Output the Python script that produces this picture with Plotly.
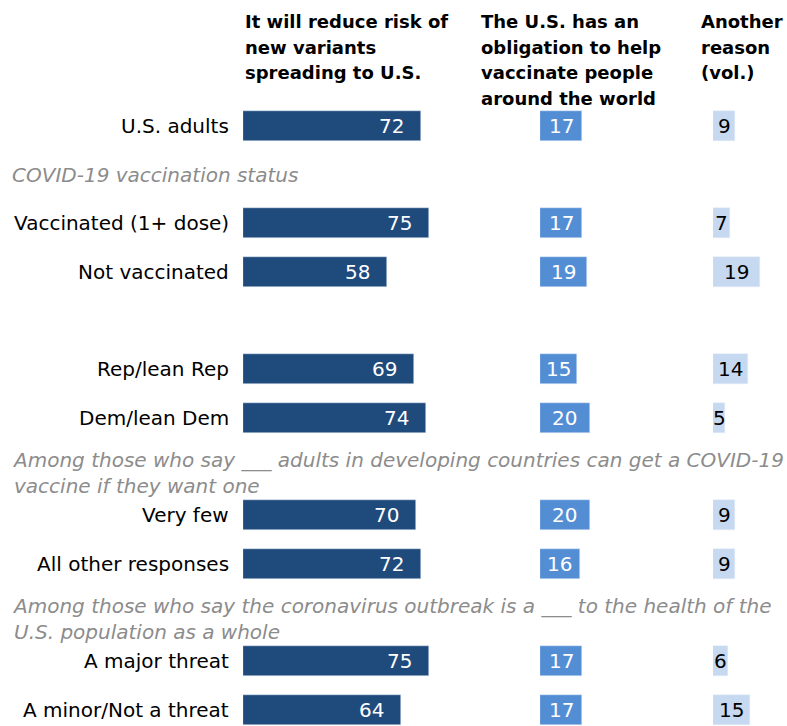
import plotly.graph_objects as go

# ---- data ----
rows = ["U.S. adults", "Vaccinated (1+ dose)", "Not vaccinated", "Rep/lean Rep",
        "Dem/lean Dem", "Very few", "All other responses", "A major threat",
        "A minor/Not a threat"]
reduce_risk = [72, 75, 58, 69, 74, 70, 72, 75, 64]
obligation = [17, 17, 19, 15, 20, 20, 16, 17, 17]
another = [9, 7, 19, 14, 5, 9, 9, 6, 15]

# full slot order, including group header rows
slots = ["U.S. adults", "hdr_vacc", "Vaccinated (1+ dose)", "Not vaccinated", "hdr_party",
         "Rep/lean Rep", "Dem/lean Dem", "hdr_dev", "Very few", "All other responses",
         "hdr_threat", "A major threat", "A minor/Not a threat"]
group_headers = {
    "hdr_vacc": "COVID-19 vaccination status",
    "hdr_dev": "Among those who say ___ adults in developing countries can get a COVID-19<br>vaccine if they want one",
    "hdr_threat": "Among those who say the coronavirus outbreak is a ___ to the health of the<br>U.S. population as a whole",
}
col_headers = [
    ["It will reduce risk of", "new variants", "spreading to U.S."],
    ["The U.S. has an", "obligation to help", "vaccinate people", "around the world"],
    ["Another", "reason", "(vol.)"],
]

W, H = 787, 726
DARK, MID, PALE = "#1f4a7c", "#538ed5", "#c6d9f1"
FONT = "DejaVu Sans"

fig = go.Figure()
fig.add_trace(go.Bar(y=rows, x=reduce_risk, orientation="h", marker_color=DARK,
                     width=0.62, xaxis="x", yaxis="y", hoverinfo="skip"))
fig.add_trace(go.Bar(y=rows, x=obligation, orientation="h", marker_color=MID,
                     width=0.62, xaxis="x2", yaxis="y", hoverinfo="skip"))
fig.add_trace(go.Bar(y=rows, x=another, orientation="h", marker_color=PALE,
                     width=0.62, xaxis="x3", yaxis="y", hoverinfo="skip"))

ann = []
# row labels
for r in rows:
    ann.append(dict(x=231 / W, xref="paper", y=r, yref="y", text=r, showarrow=False,
                    xanchor="right", yanchor="middle",
                    font=dict(family=FONT, size=20, color="#000")))
# value labels
for r, v in zip(rows, reduce_risk):
    ann.append(dict(x=v, xref="x", y=r, yref="y", text=str(v), showarrow=False,
                    xanchor="right", xshift=-15, yanchor="middle",
                    font=dict(family=FONT, size=20, color="#fff")))
for r, v in zip(rows, obligation):
    ann.append(dict(x=v / 2, xref="x2", y=r, yref="y", text=str(v), showarrow=False,
                    xanchor="center", yanchor="middle",
                    font=dict(family=FONT, size=20, color="#fff")))
for r, v in zip(rows, another):
    ann.append(dict(x=v / 2, xref="x3", y=r, yref="y", text=str(v), showarrow=False,
                    xanchor="center", yanchor="middle",
                    font=dict(family=FONT, size=20, color="#000")))
# group headers
for key, txt in group_headers.items():
    two = "<br>" in txt
    ann.append(dict(x=10 / W, xref="paper", y=key, yref="y", text="<i>" + txt.replace("<br>", "</i><br><i>") + "</i>",
                    showarrow=False, xanchor="left", yanchor="middle", align="left",
                    yshift=-6 if two else 0,
                    font=dict(family=FONT, size=20, color="#8c8c8c")))
# column headers (one annotation per line)
col_x = [243, 479, 699]
line_y = [21, 47, 72, 98]
for cx, lines in zip(col_x, col_headers):
    for i, ln in enumerate(lines):
        ann.append(dict(x=cx / W, xref="paper", y=1 - line_y[i] / H, yref="paper",
                        text="<b>" + ln + "</b>", showarrow=False, xanchor="left",
                        yanchor="middle", font=dict(family=FONT, size=18, color="#000")))

scale = 2.475  # px per percentage point
x1_start, x2_start, x3_start = 243, 540, 713
x2_end = 700
slot_px0, slot_step = 126, 48.67

fig.update_layout(
    width=W, height=H, margin=dict(l=0, r=0, t=0, b=0),
    plot_bgcolor="#fff", paper_bgcolor="#fff", showlegend=False, bargap=0,
    xaxis=dict(domain=[x1_start / W, (x1_start + 100 * scale) / W], range=[0, 100],
               visible=False, fixedrange=True),
    xaxis2=dict(domain=[x2_start / W, x2_end / W], range=[0, (x2_end - x2_start) / scale],
                visible=False, anchor="y", fixedrange=True),
    xaxis3=dict(domain=[x3_start / W, 1], range=[0, (W - x3_start) / scale],
                visible=False, anchor="y", fixedrange=True),
    yaxis=dict(type="category", categoryorder="array", categoryarray=slots,
               range=[(H - slot_px0) / slot_step, -slot_px0 / slot_step],
               visible=False, fixedrange=True),
    annotations=ann,
)

fig.write_html("out.html", config={"displayModeBar": False},
               post_script="document.body.style.margin='0';document.body.style.overflow='hidden';")
